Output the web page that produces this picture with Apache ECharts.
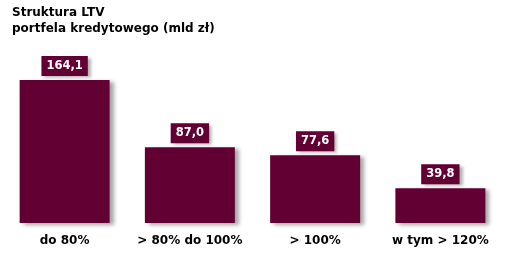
<!DOCTYPE html>
<html><head><meta charset="utf-8">
<script src="https://cdn.jsdelivr.net/npm/echarts@6/dist/echarts.min.js"></script>
<style>html,body{margin:0;padding:0;background:#fff}#c{width:523px;height:253px}</style>
</head><body><div id="c"></div>
<script>
const categories = ['do 80%', '> 80% do 100%', '> 100%', 'w tym > 120%'];
const values = [164.1, 87.0, 77.6, 39.8];
const titleLines = ['Struktura LTV', 'portfela kredytowego (mld zł)'];
const barColor = '#630033';
const chart = echarts.init(document.getElementById('c'), null, {renderer: 'canvas'});
chart.setOption({
  animation: false,
  backgroundColor: '#fff',
  title: {
    text: titleLines.join('\n'),
    left: 12, top: 5, padding: 0,
    textStyle: {fontFamily: 'DejaVu Sans', fontWeight: 'bold', fontSize: 12, lineHeight: 16, color: '#000'}
  },
  grid: {left: 2, right: 20, top: 48.6, bottom: 30},
  xAxis: {
    type: 'category', data: categories,
    axisLine: {show: false}, axisTick: {show: false},
    axisLabel: {interval: 0, margin: 12, fontFamily: 'DejaVu Sans', fontWeight: 'bold', fontSize: 12, color: '#000'}
  },
  yAxis: {type: 'value', min: 0, max: 200, show: false, splitLine: {show: false}},
  series: [{
    type: 'bar', data: values, barWidth: 90,
    itemStyle: {color: barColor, shadowColor: 'rgba(0,0,0,0.35)', shadowBlur: 4, shadowOffsetX: 4, shadowOffsetY: 2},
    label: {
      show: true, position: 'top', distance: 4,
      formatter: p => p.value.toFixed(1).replace('.', ','),
      fontFamily: 'DejaVu Sans', fontWeight: 'bold', fontSize: 11.5, lineHeight: 12, color: '#fff',
      backgroundColor: barColor, padding: [4, 5, 4, 5],
      shadowColor: 'rgba(0,0,0,0.3)', shadowBlur: 3, shadowOffsetX: 3, shadowOffsetY: 2
    }
  }]
});
</script></body></html>
